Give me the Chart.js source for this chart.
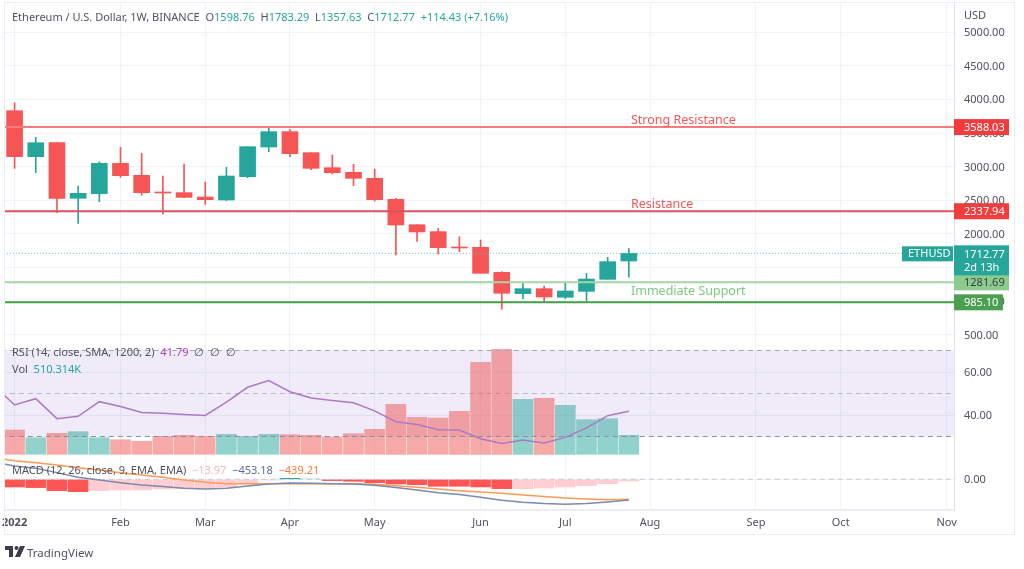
<!DOCTYPE html>
<html>
<head>
<meta charset="utf-8">
<title>Ethereum / U.S. Dollar</title>
<script src="https://cdn.jsdelivr.net/npm/chart.js@4"></script>
<style>
  body { margin: 0; background: #fff; font-family: "Noto Sans", sans-serif; }
  #wrap { position: relative; width: 1024px; height: 569px; overflow: hidden; }
  canvas { display: block; }
  .frame { position: absolute; left: 4px; top: 2px; width: 1011px; height: 533px; border: 1px solid #eceef5; box-sizing: border-box; pointer-events: none; }
  .row { position: absolute; left: 12px; font-size: 11px; line-height: 14px; white-space: pre; color: #50535e; }
  .logo { position: absolute; left: 5px; top: 546px; }
  .logoText { position: absolute; left: 27px; top: 545px; font-size: 11.5px; line-height: 16px; color: #50535e; }
  .usd { position: absolute; left: 964px; top: 8px; font-size: 11px; line-height: 14px; color: #50535e; }
</style>
</head>
<body>
<div id="wrap">
  <canvas id="chart" width="1024" height="569"></canvas>
  <div class="frame"></div>
  <div class="usd">USD</div>
  <div class="row" style="top:10px">Ethereum / U.S. Dollar, 1W, BINANCE  O<span style="color:#26a69a">1598.76</span>  H<span style="color:#26a69a">1783.29</span>  L<span style="color:#26a69a">1357.63</span>  C<span style="color:#26a69a">1712.77</span>  <span style="color:#26a69a">+114.43 (+7.16%)</span></div>
  <div class="row" style="top:345px">RSI (14, close, SMA, 1200, 2)  <span style="color:#ab47bc">41.79</span>  ∅  ∅  ∅</div>
  <div class="row" style="top:362px">Vol  <span style="color:#26a69a">510.314K</span></div>
  <div class="row" style="top:463px">MACD (12, 26, close, 9, EMA, EMA)  <span style="color:#f7b6b6">−13.97</span>  <span style="color:#5b6b9a">−453.18</span>  <span style="color:#ff7a33">−439.21</span></div>
  <svg class="logo" width="20" height="12" viewBox="0 0 20 12"><path fill="#3a3e4a" d="M0 0h8v11H4V4H0zM11.5 0a2 2 0 1 1 0 4 2 2 0 0 1 0-4zM15 0h5l-5 11h-5z"/></svg>
  <div class="logoText">TradingView</div>
</div>
<script>
// Weekly candles: [open, high, low, close]
const candles = [
  [3831, 3950, 2975, 3148], [3148, 3436, 2911, 3356], [3356, 3356, 2316, 2530],
  [2530, 2713, 2158, 2604], [2599, 3074, 2480, 3049], [3049, 3287, 2841, 2866],
  [2871, 3198, 2574, 2614], [2624, 2861, 2297, 2609], [2614, 3039, 2539, 2544],
  [2549, 2772, 2440, 2510], [2505, 2990, 2495, 2861], [2851, 3297, 2836, 3297],
  [3292, 3594, 3223, 3520], [3520, 3554, 3148, 3193], [3208, 3208, 2955, 2975],
  [2985, 3173, 2891, 2911], [2916, 3035, 2718, 2827], [2827, 2960, 2490, 2510],
  [2515, 2530, 1688, 2134], [2138, 2138, 1891, 2030], [2035, 2084, 1703, 1797],
  [1807, 1960, 1737, 1792], [1802, 1911, 1416, 1416], [1431, 1440, 881, 1119],
  [1114, 1277, 1039, 1188], [1188, 1228, 985, 1064], [1059, 1267, 1039, 1153],
  [1148, 1416, 1005, 1331], [1326, 1653, 1326, 1589], [1598.76, 1783.29, 1357.63, 1712.77]
];

// Volume in thousands
const volume = [653, 446, 564, 607, 446, 392, 349, 483, 510, 483, 537, 483, 537, 526, 510,
  465, 553, 671, 1343, 994, 975, 1155, 2471, 2820, 1477, 1504, 1316, 929, 956, 510.3];

// RSI, first value belongs to the week before the visible range
const rsi = [54.0, 44.65, 47.6, 38.3, 39.4, 46.2, 44.0, 41.2, 40.8, 40.2, 39.8, 46.0, 52.9, 56.0,
  50.85, 47.9, 46.8, 45.7, 41.9, 36.9, 35.6, 33.2, 33.0, 29.0, 26.8, 28.4, 27.0, 29.6, 34.0, 39.7, 41.79];

// MACD lines, also starting one week early
const macdLine = [378, 292, 241, 146, 44, -15, -73, -124, -160, -197, -212, -197, -146, -102,
  -80, -88, -95, -102, -131, -182, -233, -292, -335, -394, -459, -503, -532, -547, -532, -496, -453.18];
const signalLine = [466, 408, 365, 313, 255, 204, 146, 95, 44, -15, -66, -95, -95, -95, -95, -95, -95,
  -95, -109, -139, -175, -212, -248, -277, -306, -343, -379, -408, -430, -445, -439.21];

const macdHist = [-168, -182, -248, -270, -248, -233, -233, -211, -204, -197, -168, -102, -15,
  22, 12, -29, -44, -73, -102, -117, -153, -153, -168, -204, -204, -190, -168, -139, -95, -36];
const histColor = ['#f55', '#f55', '#f55', '#f55', '#ffcdd2', '#ffcdd2', '#ffcdd2', '#ffcdd2',
  '#ffcdd2', '#ffcdd2', '#ffcdd2', '#ffcdd2', '#ffcdd2', '#26a69a', '#b2dfdb', '#f55', '#f55',
  '#f55', '#f55', '#f55', '#f55', '#f55', '#f55', '#f55', '#ffcdd2', '#ffcdd2', '#ffcdd2',
  '#ffcdd2', '#ffcdd2', '#ffcdd2'];

const UP = '#26a69a';
const DOWN = '#f55555';
const weeks = candles.map((c, i) => i);
const isUp = i => candles[i][3] >= candles[i][0];

// Price levels drawn on the chart
const levels = [
  { value: 3588.03, color: '#f77c80', width: 2, tag: '#f23c3c', text: '#fff', right: 1009, name: 'Strong Resistance', nameColor: '#f55555', nameDy: -7 },
  { value: 2337.94, color: '#e0505c', width: 2, tag: '#f23c3c', text: '#fff', right: 1009, name: 'Resistance', nameColor: '#f55555', nameDy: -7 },
  { value: 1281.69, color: '#a5d6a7', width: 2, tag: '#8bcb8e', text: '#3a3e4a', right: 1009, name: 'Immediate Support', nameColor: '#81c784', nameDy: 9 },
  { value: 985.10, color: '#43a047', width: 2, tag: '#4c9f50', text: '#fff', right: 1003 }
];

// Month labels on the time axis, keyed by week index
const months = { 0: '2022', 5: 'Feb', 9: 'Mar', 13: 'Apr', 17: 'May', 22: 'Jun', 26: 'Jul', 30: 'Aug', 35: 'Sep', 39: 'Oct', 44: 'Nov' };

const xMin = -0.5, xMax = 44.35;
const flat = (value) => [{ x: xMin - 1, y: value }, { x: xMax + 1, y: value }];
const lineFrom = (arr) => arr.map((v, i) => ({ x: i - 1, y: v }));

const datasets = [
  // Candles
  { type: 'bar', yAxisID: 'yPrice', order: 2, barThickness: 1, grouped: false,
    data: weeks.map(i => ({ x: i, y: [candles[i][2], candles[i][1]] })),
    backgroundColor: weeks.map(i => isUp(i) ? UP : DOWN) },
  { type: 'bar', yAxisID: 'yPrice', order: 1, barThickness: 16, grouped: false,
    data: weeks.map(i => ({ x: i, y: [candles[i][0], candles[i][3]] })),
    backgroundColor: weeks.map(i => isUp(i) ? UP : DOWN) },
  // Last price
  { type: 'line', yAxisID: 'yPrice', order: 0, data: flat(1712.77), borderColor: '#5fbfb5', borderWidth: 1, borderDash: [1, 2], pointRadius: 0 },
  // RSI band, dashed levels, line
  { type: 'line', yAxisID: 'yRsi', order: 12, data: flat(70), borderWidth: 0, pointRadius: 0, backgroundColor: 'rgba(126,87,194,0.12)', fill: { value: 30 } },
  { type: 'line', yAxisID: 'yRsi', order: 5, data: flat(70), borderColor: '#a3a6af', borderWidth: 1, borderDash: [5, 4], pointRadius: 0 },
  { type: 'line', yAxisID: 'yRsi', order: 11, data: flat(50), borderColor: '#b9bbc4', borderWidth: 1, borderDash: [5, 4], pointRadius: 0 },
  { type: 'line', yAxisID: 'yRsi', order: 5, data: flat(30), borderColor: '#8b8fa3', borderWidth: 1, borderDash: [5, 4], pointRadius: 0 },
  { type: 'line', yAxisID: 'yRsi', order: 3, data: lineFrom(rsi), borderColor: '#ab7ac5', borderWidth: 1.5, pointRadius: 0 },
  // Volume
  { type: 'bar', yAxisID: 'yVol', order: 8, barThickness: 20, grouped: false,
    data: weeks.map(i => ({ x: i, y: volume[i] })),
    backgroundColor: weeks.map(i => isUp(i) ? 'rgba(38,166,154,0.5)' : 'rgba(239,83,80,0.5)') },
  // MACD
  { type: 'bar', yAxisID: 'yMacd', order: 8, barThickness: 20, grouped: false,
    data: weeks.map(i => ({ x: i, y: macdHist[i] })), backgroundColor: histColor },
  { type: 'line', yAxisID: 'yMacd', order: 6, data: flat(0), borderColor: '#c9cbd3', borderWidth: 1, borderDash: [5, 4], pointRadius: 0 },
  { type: 'line', yAxisID: 'yMacd', order: 3, data: lineFrom(macdLine), borderColor: '#7d89ad', borderWidth: 1.5, pointRadius: 0 },
  { type: 'line', yAxisID: 'yMacd', order: 4, data: lineFrom(signalLine), borderColor: '#ff9a55', borderWidth: 1.5, pointRadius: 0 }
];

// Level lines go on top of the candles
levels.forEach(l => datasets.push({ type: 'line', yAxisID: 'yPrice', order: 0, data: flat(l.value), borderColor: l.color, borderWidth: l.width, pointRadius: 0 }));

const plainGrid = { color: '#f0f3fa', drawTicks: false };
const axisBorder = { color: '#e0e3eb' };
const tickStyle = { color: '#50535e', font: { family: 'Noto Sans', size: 11 }, padding: 10, autoSkip: false, labelOffset: 1 };
// Right axis keeps its width, tick labels must not add padding to the plot
const keepWidth = s => { s.width = 61; s.paddingTop = 0; s.paddingBottom = 0; };
const setTicks = list => s => { s.ticks = list.map(v => ({ value: v })); };

// Price tags and the level names
const tagPlugin = {
  id: 'tags',
  afterDraw(chart) {
    const { ctx, scales } = chart;
    const yP = scales.yPrice;
    const left = chart.chartArea.right;
    ctx.save();
    ctx.textBaseline = 'middle';
    ctx.font = '11px "Noto Sans"';
    ctx.textAlign = 'left';

    levels.forEach(l => {
      const y = yP.getPixelForValue(l.value);
      ctx.fillStyle = l.tag;
      ctx.fillRect(left, y - 8, l.right - left, 16);
      ctx.fillStyle = l.text;
      ctx.fillText(l.value.toFixed(2), left + 10, y + 1);
      if (l.name) {
        ctx.font = '12.5px "Noto Sans"';
        ctx.fillStyle = l.nameColor;
        ctx.fillText(l.name, scales.x.getPixelForValue(29.1), y + l.nameDy);
        ctx.font = '11px "Noto Sans"';
      }
    });

    // Last price box with countdown and symbol tag
    const y = yP.getPixelForValue(1712.77);
    ctx.fillStyle = UP;
    ctx.fillRect(left, y - 8, 55, 30);
    ctx.fillRect(left - 52, y - 7, 51, 15);
    ctx.fillStyle = '#fff';
    ctx.fillText('1712.77', left + 10, y + 2);
    ctx.fillText('2d 13h', left + 10, y + 15);
    ctx.fillText('ETHUSD', left - 46, y + 1);
    ctx.restore();
  }
};

const ctx = document.getElementById('chart').getContext('2d');
new Chart(ctx, {
  data: { datasets },
  plugins: [tagPlugin],
  options: {
    animation: false,
    responsive: false,
    layout: { autoPadding: false, padding: { left: 4, right: 9, top: 3, bottom: 34 } },
    plugins: { legend: { display: false }, tooltip: { enabled: false } },
    scales: {
      x: {
        type: 'linear', offset: false, min: xMin, max: xMax, grid: { ...plainGrid, offset: false },
        border: { color: '#eceef3', width: 2 },
        afterBuildTicks: s => { s.ticks = Object.keys(months).map(k => ({ value: +k })); },
        afterFit: s => { s.height = 25; s.paddingLeft = 0; s.paddingRight = 0; },
        ticks: {
          autoSkip: false, maxRotation: 0, padding: 6, color: '#50535e',
          font: c => ({ family: 'Noto Sans', size: 11, weight: c.tick && c.tick.value === 0 ? 'bold' : 'normal' }),
          callback: v => months[v]
        }
      },
      yPrice: {
        position: 'right', stack: 'panes', stackWeight: 342, min: 351, max: 5431,
        grid: plainGrid, border: axisBorder, afterFit: keepWidth,
        afterBuildTicks: setTicks([500, 1000, 1500, 2000, 2500, 3000, 3500, 4000, 4500, 5000]),
        ticks: { ...tickStyle, callback: v => v.toFixed(2) }
      },
      yRsi: {
        position: 'right', stack: 'panes', stackWeight: 110, min: 21.4, max: 72.56,
        grid: plainGrid, border: axisBorder, afterFit: keepWidth,
        afterBuildTicks: setTicks([40, 60]),
        ticks: { ...tickStyle, callback: v => v.toFixed(2) }
      },
      yMacd: {
        position: 'right', stack: 'panes', stackWeight: 55, min: -672, max: 532,
        grid: plainGrid, border: axisBorder, afterFit: keepWidth,
        afterBuildTicks: setTicks([0]),
        ticks: { ...tickStyle, callback: v => v.toFixed(2) }
      },
      // Volume shares the RSI pane, its scale only sets the bar height
      yVol: { position: 'right', display: false, min: -1496, max: 12122 }
    }
  }
});
</script>
</body>
</html>
